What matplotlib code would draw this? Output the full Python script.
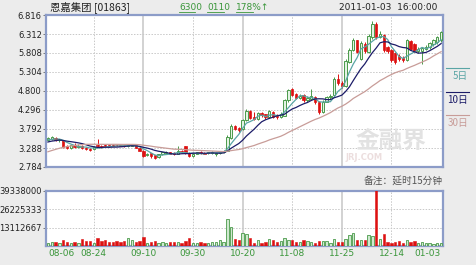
import matplotlib.pyplot as plt
import matplotlib.lines as mlines
import numpy as np
import pandas as pd

# closes before the first visible bar (only used for the moving averages)
pre_close = [2.58, 2.60, 2.63, 2.61, 2.66, 2.84, 2.92, 2.97, 3.02, 3.00,
             3.18, 3.30, 3.36, 3.33, 3.38, 3.35, 3.31, 3.37, 3.40, 3.36,
             3.33, 3.38, 3.35, 3.42, 3.47, 3.50, 3.46, 3.52, 3.49]

open_ = [3.49, 3.53, 3.56, 3.49, 3.50, 3.33, 3.29, 3.37, 3.31, 3.35,
         3.29, 3.27, 3.25, 3.36, 3.34, 3.37, 3.36, 3.37, 3.38, 3.38,
         3.37, 3.33, 3.35, 3.37, 3.30, 3.22, 3.10, 3.15, 3.09, 3.04,
         3.12, 3.16, 3.18, 3.15, 3.13, 3.21, 3.33, 3.16, 3.08, 3.14,
         3.18, 3.16, 3.15, 3.16, 3.12, 3.15, 3.17, 3.22, 3.56, 3.86,
         3.82, 3.78, 4.02, 4.28, 4.10, 4.06, 4.22, 4.18, 4.10, 4.24,
         4.14, 4.10, 4.15, 4.55, 4.84, 4.72, 4.62, 4.70, 4.56, 4.60,
         4.64, 4.52, 4.24, 4.52, 4.64, 4.70, 5.12, 5.02, 4.92, 5.58,
         5.88, 6.14, 5.66, 6.06, 5.84, 6.22, 6.57, 6.24, 6.28, 5.96,
         5.90, 5.80, 5.74, 5.68, 5.62, 6.12, 6.06, 5.86, 5.86, 5.92,
         5.96, 6.04, 6.10, 6.14]
close = [3.55, 3.57, 3.50, 3.52, 3.31, 3.28, 3.36, 3.31, 3.35, 3.28,
         3.26, 3.24, 3.31, 3.33, 3.32, 3.34, 3.33, 3.35, 3.36, 3.35,
         3.34, 3.36, 3.38, 3.30, 3.22, 3.07, 3.13, 3.08, 3.02, 3.12,
         3.17, 3.18, 3.14, 3.12, 3.22, 3.18, 3.16, 3.07, 3.13, 3.17,
         3.15, 3.14, 3.17, 3.18, 3.16, 3.17, 3.22, 3.58, 3.88, 3.80,
         3.76, 4.02, 4.28, 4.09, 4.05, 4.22, 4.16, 4.10, 4.26, 4.12,
         4.10, 4.20, 4.55, 4.82, 4.70, 4.62, 4.68, 4.55, 4.62, 4.66,
         4.50, 4.24, 4.52, 4.64, 4.68, 5.12, 5.00, 4.92, 5.60, 5.90,
         6.16, 5.84, 6.08, 5.86, 6.25, 6.57, 6.22, 6.30, 5.88, 5.86,
         5.62, 5.58, 5.64, 5.62, 6.14, 5.92, 5.86, 5.92, 5.94, 5.98,
         6.08, 6.16, 6.22, 6.36]
high = [3.58, 3.60, 3.58, 3.54, 3.51, 3.36, 3.38, 3.43, 3.40, 3.37,
        3.32, 3.30, 3.33, 3.52, 3.37, 3.39, 3.38, 3.39, 3.40, 3.40,
        3.39, 3.38, 3.40, 3.38, 3.31, 3.23, 3.16, 3.16, 3.10, 3.14,
        3.19, 3.21, 3.19, 3.17, 3.34, 3.24, 3.35, 3.17, 3.15, 3.19,
        3.20, 3.18, 3.19, 3.20, 3.18, 3.19, 3.24, 3.62, 3.92, 3.90,
        3.84, 4.06, 4.32, 4.30, 4.24, 4.25, 4.25, 4.20, 4.30, 4.26,
        4.18, 4.24, 4.58, 4.86, 4.88, 4.76, 4.72, 4.72, 4.66, 4.84,
        4.66, 4.54, 4.55, 4.68, 4.72, 5.18, 5.24, 5.06, 5.64, 5.94,
        6.20, 6.16, 6.12, 6.10, 6.30, 6.66, 6.62, 6.40, 6.32, 6.00,
        5.92, 5.84, 5.78, 5.72, 6.18, 6.14, 6.08, 5.96, 5.98, 6.02,
        6.10, 6.18, 6.26, 6.40]
low = [3.47, 3.51, 3.48, 3.46, 3.28, 3.26, 3.27, 3.29, 3.29, 3.25,
       3.24, 3.22, 3.23, 3.31, 3.30, 3.32, 3.31, 3.33, 3.34, 3.33,
       3.32, 3.31, 3.33, 3.28, 3.20, 3.05, 3.08, 3.02, 2.99, 3.02,
       3.10, 3.14, 3.12, 3.10, 3.12, 3.16, 3.14, 3.04, 3.06, 3.12,
       3.13, 3.12, 3.13, 3.14, 3.07, 3.13, 3.15, 3.20, 3.54, 3.76,
       3.72, 3.76, 4.00, 4.06, 4.02, 4.04, 4.12, 4.06, 4.08, 4.08,
       4.06, 4.08, 4.13, 4.52, 4.66, 4.58, 4.58, 4.52, 4.52, 4.56,
       4.46, 4.18, 4.22, 4.50, 4.60, 4.68, 4.96, 4.88, 4.90, 5.55,
       5.85, 5.80, 5.62, 5.82, 5.80, 6.18, 6.18, 6.20, 5.84, 5.82,
       5.58, 5.52, 5.60, 5.58, 5.60, 5.88, 5.84, 5.82, 5.52, 5.88,
       5.92, 6.00, 6.06, 6.10]
# volume in millions of shares
vol = [2.3, 2.6, 3.0, 2.2, 4.6, 3.2, 2.0, 2.8, 2.2, 4.8,
       3.5, 3.8, 2.4, 5.5, 3.4, 4.6, 3.2, 3.0, 3.4, 3.0,
       3.3, 5.8, 4.0, 3.0, 3.6, 6.6, 2.4, 3.2, 3.8, 2.5,
       2.6, 2.0, 2.8, 2.6, 3.0, 2.4, 3.3, 5.5, 2.5, 2.2,
       2.6, 2.2, 2.4, 2.6, 3.0, 4.5, 3.2, 19.5, 13.6, 4.8,
       4.3, 9.0, 8.3, 5.7, 2.5, 4.0, 2.5, 3.0, 5.0, 4.5,
       3.0, 3.5, 6.0, 4.0, 4.0, 3.0, 3.0, 4.0, 3.5, 3.0,
       2.5, 3.5, 3.5, 3.5, 2.5, 5.0, 3.0, 3.0, 5.0, 8.0,
       9.3, 4.5, 4.5, 4.5, 8.0, 7.5, 42.0, 5.0, 8.6, 3.0,
       2.5, 3.0, 3.5, 2.5, 4.5, 3.0, 3.5, 2.0, 3.0, 2.0,
       2.0, 1.5, 2.0, 2.5]

tick_idx = [0, 12, 25, 38, 51, 64, 77, 90, 103]
tick_labels = ['08-06', '08-24', '09-10', '09-30', '10-20', '11-08', '11-25', '12-14', '01-03']
price_ticks = [2.784, 3.288, 3.792, 4.296, 4.800, 5.304, 5.808, 6.312, 6.816]
vol_ticks = [13112667, 26225333, 39338000]
ma_days = [5, 10, 30]
ma_colors = ['#5aa5a5', '#1c1c68', '#c89c98']
ma_names = ['5日', '10日', '30日']

W, H = 476, 265
bg = '#ececec'
frame = '#8c9cc8'
up_c = '#4a9a4a'
up_f = '#e4f3e4'
dn_c = '#dd1111'
green_txt = '#3a963a'
cjk = ['Noto Sans CJK SC', 'DejaVu Sans']

fig = plt.figure(figsize=(W / 100, H / 100), dpi=100, facecolor=bg)
ax = fig.add_axes([46 / W, 1 - 167 / H, 397 / W, 152 / H])
axv = fig.add_axes([46 / W, 1 - 246 / H, 397 / W, 55 / H])

x = np.arange(len(close))
o = np.array(open_)
c = np.array(close)
up = c >= o
n = len(x)

def style(a):
    a.set_facecolor('white')
    for s in a.spines.values():
        s.set_color(frame)
        s.set_linewidth(1.6)
    a.set_xlim(-0.5, n - 0.5)
    a.tick_params(length=2, width=0.6, color='#666666', pad=1,
                  labelsize=6, labelcolor='#222222')
    for i in tick_idx[1:-1]:
        if i in (25, 51, 77):
            a.axvline(i, color='#d2d2d2', lw=1.4, zorder=0)
        else:
            a.axvline(i, color='#c8c8c8', lw=0.7, ls=(0, (1.5, 1.5)), zorder=0)

style(ax)
style(axv)

# candles
ax.vlines(x[up], np.array(low)[up], np.array(high)[up], color=up_c, lw=0.7, zorder=2)
ax.vlines(x[~up], np.array(low)[~up], np.array(high)[~up], color=dn_c, lw=0.7, zorder=2)
body_lo = np.minimum(o, c)
body_h = np.maximum(np.abs(c - o), 0.01)
ax.bar(x[up], body_h[up], bottom=body_lo[up], width=0.62, facecolor=up_f,
       edgecolor=up_c, linewidth=0.7, zorder=3)
ax.bar(x[~up], body_h[~up], bottom=body_lo[~up], width=0.62, facecolor=dn_c,
       edgecolor=dn_c, linewidth=0.5, zorder=3)

# moving averages
allc = pd.Series(pre_close + close)
for d, col in zip(ma_days, ma_colors):
    ma = allc.rolling(d).mean().to_numpy()[len(pre_close):]
    ax.plot(x, ma, color=col, lw=0.9, zorder=4)

ax.set_ylim(price_ticks[0], price_ticks[-1])
ax.set_yticks(price_ticks)
ax.set_yticklabels(['%.3f' % t for t in price_ticks])
for t in price_ticks[1:-1]:
    ax.axhline(t, color='#c8c8c8', lw=0.7, ls=(0, (1.5, 1.5)), zorder=0)
ax.set_xticks([])

# watermark
ax.text(0.87, 0.17, '金融界', transform=ax.transAxes, fontsize=17, fontweight='bold',
        color='#e2e2e2', ha='center', va='center', family=cjk, zorder=1)
ax.text(0.80, 0.06, 'JRJ.COM', transform=ax.transAxes, fontsize=6, fontweight='bold',
        color='#ecdede', ha='center', va='center', zorder=1)

# volume
v = np.array(vol) * 1e6
axv.bar(x[up], v[up], width=0.62, facecolor='#cfe8cf', edgecolor=up_c, linewidth=0.6, zorder=3)
axv.bar(x[~up], v[~up], width=0.62, facecolor=dn_c, edgecolor=dn_c, linewidth=0.4, zorder=3)
axv.set_ylim(0, vol_ticks[-1])
axv.set_yticks(vol_ticks)
axv.set_yticklabels([str(t) for t in vol_ticks])
axv.axhline(vol_ticks[0], color='#c8c8c8', lw=0.7, ls=(0, (1.5, 1.5)), zorder=0)
axv.axhline(vol_ticks[1], color='#c8c8c8', lw=0.7, ls=(0, (1.5, 1.5)), zorder=0)
axv.set_xticks(tick_idx)
axv.set_xticklabels(tick_labels)
axv.tick_params(axis='x', length=0, labelcolor=green_txt, labelsize=6.5, pad=2)
labs = axv.get_xticklabels()
labs[0].set_ha('left')
labs[-1].set_ha('right')

# header texts
def ftext(px, py, s, **kw):
    fig.text(px / W, 1 - py / H, s, va='center', **kw)

def fline(x0, x1, py, col, lw=0.6):
    fig.add_artist(mlines.Line2D([x0 / W, x1 / W], [1 - py / H] * 2, color=col, lw=lw,
                                 transform=fig.transFigure))

ftext(50, 7, '恩嘉集团 [01863]', fontsize=7.5, color='#222222', family=cjk)
ftext(179, 7, '6300', fontsize=6.5, color=green_txt)
fline(179, 195, 12, green_txt)
ftext(207, 7, '0110', fontsize=6.5, color=green_txt)
fline(207, 224, 12, green_txt)
ftext(236, 7, '178%↑', fontsize=6.5, color=green_txt)
fline(236, 253, 12, green_txt)
ftext(437, 7, '2011-01-03  16:00:00', fontsize=6.5, color='#222222', ha='right')
ftext(443, 181, '备注：延时15分钟', fontsize=7, color='#555555', ha='right', family=cjk)

# MA legend on the right
for py, col, name in zip([68, 92, 115], ma_colors, ma_names):
    fline(446, 469, py, col, lw=0.8)
    ftext(468, py + 8, name, fontsize=7, color=col, ha='right', family=cjk)

fig.savefig('out.png', dpi=100, facecolor=bg)
